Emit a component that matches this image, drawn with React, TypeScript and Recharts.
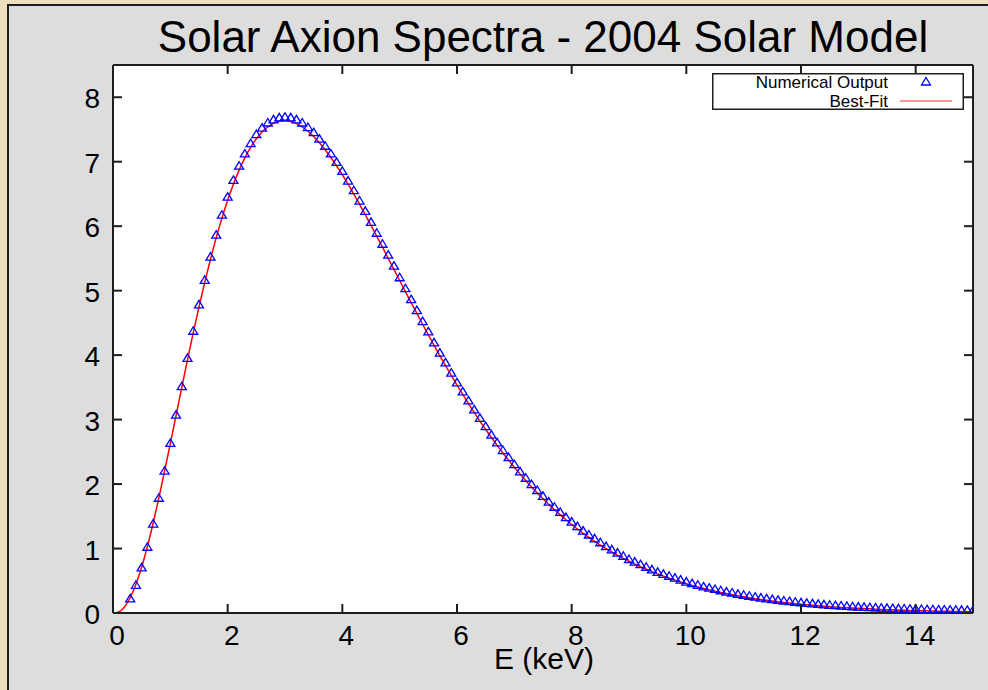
import { ComposedChart, Line, XAxis, YAxis, CartesianGrid, Legend } from "recharts";

const FONT = "'Liberation Sans', Arial, Helvetica, sans-serif";
const FRAME = "#1e1e1e";
const BLUE = "#0000ff";
const RED = "#ff0000";

const seriesNames = ["Numerical Output", "Best-Fit"];
const xTicks = [0, 2, 4, 6, 8, 10, 12, 14];
const yTicks = [0, 1, 2, 3, 4, 5, 6, 7, 8];

// energy grid, keV
const energy = [
  0.0, 0.1, 0.2, 0.3, 0.4, 0.5, 0.6, 0.7, 0.8, 0.9,
  1.0, 1.1, 1.2, 1.3, 1.4, 1.5, 1.6, 1.7, 1.8, 1.9,
  2.0, 2.1, 2.2, 2.3, 2.4, 2.5, 2.6, 2.7, 2.8, 2.9,
  3.0, 3.1, 3.2, 3.3, 3.4, 3.5, 3.6, 3.7, 3.8, 3.9,
  4.0, 4.1, 4.2, 4.3, 4.4, 4.5, 4.6, 4.7, 4.8, 4.9,
  5.0, 5.1, 5.2, 5.3, 5.4, 5.5, 5.6, 5.7, 5.8, 5.9,
  6.0, 6.1, 6.2, 6.3, 6.4, 6.5, 6.6, 6.7, 6.8, 6.9,
  7.0, 7.1, 7.2, 7.3, 7.4, 7.5, 7.6, 7.7, 7.8, 7.9,
  8.0, 8.1, 8.2, 8.3, 8.4, 8.5, 8.6, 8.7, 8.8, 8.9,
  9.0, 9.1, 9.2, 9.3, 9.4, 9.5, 9.6, 9.7, 9.8, 9.9,
  10.0, 10.1, 10.2, 10.3, 10.4, 10.5, 10.6, 10.7, 10.8, 10.9,
  11.0, 11.1, 11.2, 11.3, 11.4, 11.5, 11.6, 11.7, 11.8, 11.9,
  12.0, 12.1, 12.2, 12.3, 12.4, 12.5, 12.6, 12.7, 12.8, 12.9,
  13.0, 13.1, 13.2, 13.3, 13.4, 13.5, 13.6, 13.7, 13.8, 13.9,
  14.0, 14.1, 14.2, 14.3, 14.4, 14.5, 14.6, 14.7, 14.8, 14.9,
  15.0,
];

// triangles (numerical output), none below 0.3 keV
const numerical = [
  null, null, null, 0.22, 0.43, 0.70, 1.02, 1.38, 1.78, 2.20,
  2.63, 3.07, 3.51, 3.95, 4.37, 4.78, 5.16, 5.52, 5.86, 6.17,
  6.45, 6.71, 6.93, 7.12, 7.28, 7.42, 7.52, 7.60, 7.65, 7.68,
  7.69, 7.68, 7.65, 7.60, 7.53, 7.45, 7.35, 7.24, 7.12, 6.99,
  6.85, 6.70, 6.55, 6.39, 6.23, 6.06, 5.89, 5.72, 5.55, 5.38,
  5.20, 5.03, 4.86, 4.69, 4.52, 4.36, 4.19, 4.03, 3.88, 3.72,
  3.57, 3.43, 3.29, 3.15, 3.02, 2.89, 2.76, 2.64, 2.52, 2.41,
  2.30, 2.19, 2.09, 1.99, 1.90, 1.81, 1.72, 1.64, 1.56, 1.48,
  1.41, 1.34, 1.27, 1.21, 1.15, 1.09, 1.03, 0.98, 0.93, 0.88,
  0.83, 0.79, 0.75, 0.71, 0.67, 0.63, 0.60, 0.57, 0.54, 0.51,
  0.48, 0.455, 0.43, 0.405, 0.385, 0.365, 0.345, 0.325, 0.31, 0.29,
  0.275, 0.26, 0.245, 0.232, 0.22, 0.208, 0.197, 0.186, 0.176, 0.167,
  0.158, 0.15, 0.142, 0.134, 0.127, 0.12, 0.114, 0.108, 0.102, 0.097,
  0.092, 0.088, 0.083, 0.079, 0.075, 0.072, 0.068, 0.065, 0.062, 0.059,
  0.057, 0.054, 0.052, 0.05, 0.048, 0.046, 0.044, 0.043, 0.041, 0.04,
  0.038,
];

// red best-fit curve
const bestFit = [
  0, 0.018, 0.094, 0.237, 0.446, 0.713, 1.032, 1.392, 1.785, 2.2,
  2.63, 3.066, 3.501, 3.931, 4.348, 4.749, 5.129, 5.487, 5.82, 6.125,
  6.402, 6.651, 6.87, 7.06, 7.221, 7.355, 7.461, 7.541, 7.595, 7.626,
  7.635, 7.622, 7.59, 7.54, 7.473, 7.391, 7.295, 7.186, 7.066, 6.936,
  6.798, 6.652, 6.499, 6.341, 6.179, 6.013, 5.844, 5.673, 5.502, 5.329,
  5.157, 4.985, 4.815, 4.646, 4.479, 4.314, 4.152, 3.993, 3.837, 3.684,
  3.535, 3.39, 3.248, 3.111, 2.977, 2.847, 2.722, 2.6, 2.483, 2.369,
  2.26, 2.155, 2.053, 1.955, 1.861, 1.771, 1.685, 1.601, 1.522, 1.446,
  1.373, 1.303, 1.236, 1.173, 1.112, 1.054, 0.998, 0.946, 0.895, 0.847,
  0.802, 0.759, 0.717, 0.678, 0.641, 0.606, 0.572, 0.54, 0.51, 0.481,
  0.454, 0.428, 0.404, 0.381, 0.359, 0.339, 0.319, 0.301, 0.283, 0.267,
  0.251, 0.236, 0.222, 0.209, 0.197, 0.185, 0.174, 0.164, 0.154, 0.145,
  0.136, 0.128, 0.12, 0.113, 0.106, 0.099, 0.093, 0.087, 0.082, 0.077,
  0.072, 0.068, 0.064, 0.06, 0.056, 0.052, 0.049, 0.046, 0.043, 0.04,
  0.038, 0.036, 0.033, 0.031, 0.029, 0.027, 0.026, 0.024, 0.022, 0.021,
  0.02,
];

const rows = energy.map((e, i) => ({ energy: e, numerical: numerical[i], fit: bestFit[i] }));

function Triangle(props: any) {
  const { cx, cy, value } = props;
  if (value == null || cy == null || isNaN(cy)) return <g />;
  return (
    <path
      d={`M${cx},${cy - 4.5} L${cx + 4.5},${cy + 3} L${cx - 4.5},${cy + 3} Z`}
      fill="none"
      stroke={BLUE}
      strokeWidth={1.3}
    />
  );
}

const tickText = { fontFamily: FONT, fontSize: 28, fill: "#000" };

function BottomTick({ x, y, payload }: any) {
  return (
    <g>
      <line x1={x} y1={y} x2={x} y2={y - 9} stroke={FRAME} strokeWidth={2} />
      <text x={x + 4} y={y + 32} textAnchor="middle" {...tickText}>{payload.value}</text>
    </g>
  );
}

function LeftTick({ x, y, payload }: any) {
  return (
    <g>
      <line x1={x} y1={y} x2={x + 9} y2={y} stroke={FRAME} strokeWidth={2} />
      <text x={x - 13} y={y + 11} textAnchor="end" {...tickText}>{payload.value}</text>
    </g>
  );
}

function TopTick({ x, y }: any) {
  return <line x1={x} y1={y} x2={x} y2={y + 9} stroke={FRAME} strokeWidth={2} />;
}

function RightTick({ x, y }: any) {
  return <line x1={x} y1={y} x2={x - 9} y2={y} stroke={FRAME} strokeWidth={2} />;
}

function KeyBox() {
  return (
    <svg width={252} height={37} style={{ display: "block" }}>
      <rect x={0.75} y={0.75} width={250.5} height={35.5} fill="#fff" stroke={FRAME} strokeWidth={1.5} />
      <text x={176} y={15} textAnchor="end" fontFamily={FONT} fontSize={17} fill="#000">{seriesNames[0]}</text>
      <path d="M214,4.5 L218.5,12 L209.5,12 Z" fill="none" stroke={BLUE} strokeWidth={1.3} />
      <text x={176} y={33.5} textAnchor="end" fontFamily={FONT} fontSize={17} fill="#000">{seriesNames[1]}</text>
      <line x1={188} y1={28} x2={240} y2={28} stroke="#ff7070" strokeWidth={1.5} />
    </svg>
  );
}

export default function App() {
  return (
    <div style={{ position: "fixed", left: 0, top: 0, width: 988, height: 690, background: "#eedfbd", overflow: "hidden" }}>
      <div
        style={{
          position: "absolute", left: 7, top: 4, width: 981, height: 686, boxSizing: "border-box",
          background: "#dddddd", borderLeft: `2px solid ${FRAME}`, borderTop: `2px solid ${FRAME}`,
        }}
      />
      <svg width={988} height={690} style={{ position: "absolute", left: 0, top: 0 }}>
        <text x={543} y={52} textAnchor="middle" fontFamily={FONT} fontSize={44} fill="#000">
          Solar Axion Spectra - 2004 Solar Model
        </text>
        <text x={544} y={669} textAnchor="middle" fontFamily={FONT} fontSize={30} fill="#000">
          E (keV)
        </text>
      </svg>
      <div style={{ position: "absolute", left: 8, top: 5 }}>
        <ComposedChart width={980} height={685} data={rows} margin={{ top: 59, right: 14, bottom: 0, left: 0 }}>
          <CartesianGrid fill="#fff" horizontal={false} vertical={false} />
          <XAxis
            dataKey="energy" type="number" domain={[0, 15]} ticks={xTicks} interval={0} allowDataOverflow
            height={77} tickSize={0} tickMargin={0} tickLine={false} tick={<BottomTick />}
            axisLine={{ stroke: FRAME, strokeWidth: 2 }}
          />
          <XAxis
            xAxisId="top" dataKey="energy" orientation="top" type="number" domain={[0, 15]} ticks={xTicks} interval={0}
            allowDataOverflow height={1} tickSize={0} tickMargin={0} tickLine={false} tick={<TopTick />}
            axisLine={{ stroke: FRAME, strokeWidth: 2 }}
          />
          <YAxis
            type="number" domain={[0, 8.5]} ticks={yTicks} interval={0} allowDataOverflow
            width={105} tickSize={0} tickMargin={0} tickLine={false} tick={<LeftTick />}
            axisLine={{ stroke: FRAME, strokeWidth: 2 }}
          />
          <YAxis
            yAxisId="right" orientation="right" type="number" domain={[0, 8.5]} ticks={yTicks} interval={0} allowDataOverflow
            width={1} tickSize={0} tickMargin={0} tickLine={false} tick={<RightTick />}
            axisLine={{ stroke: FRAME, strokeWidth: 2 }}
          />
          <Legend
            layout="horizontal" align="center" verticalAlign="middle"
            wrapperStyle={{ left: 704, top: 68, width: 252, height: 37 }}
            content={() => <KeyBox />}
          />
          <Line
            dataKey="numerical" name={seriesNames[0]} stroke="none" dot={<Triangle />} activeDot={false}
            isAnimationActive={false} connectNulls={false}
          />
          <Line
            dataKey="fit" name={seriesNames[1]} type="monotone" stroke={RED} strokeWidth={1.5} dot={false}
            activeDot={false} isAnimationActive={false}
          />
          {/* keep the mirror axes in use so they render */}
          <Line
            xAxisId="top" yAxisId="right" dataKey="fit" stroke="none" dot={false} activeDot={false}
            isAnimationActive={false} legendType="none"
          />
        </ComposedChart>
      </div>
    </div>
  );
}
